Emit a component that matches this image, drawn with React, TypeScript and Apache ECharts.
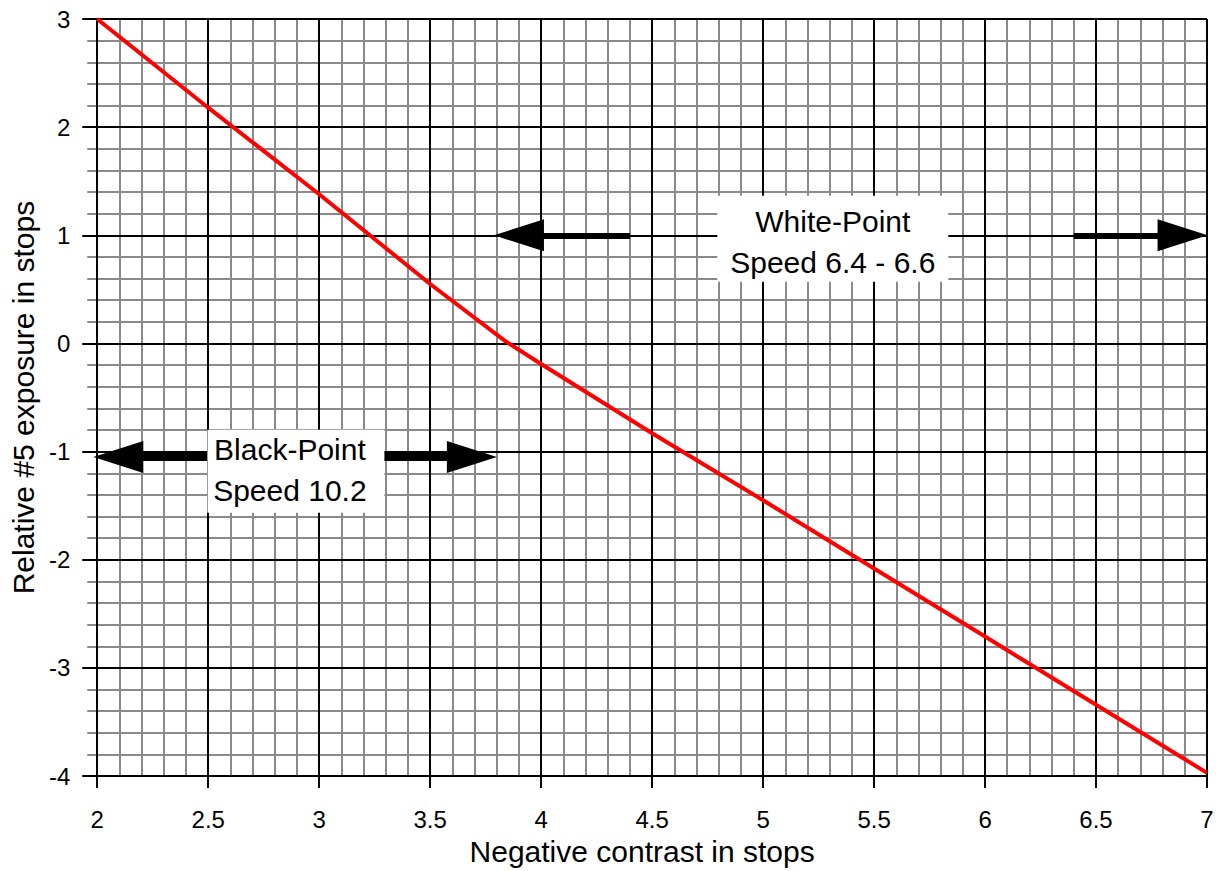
import React, { useEffect, useRef } from "react";
import * as echarts from "echarts";

// Axis ranges and ticks
const xRange = [2, 7];
const yRange = [-4, 3];
const xMajorStep = 0.5;
const yMajorStep = 1;

// Red curve: negative contrast (stops) vs relative #5 exposure (stops)
const contrastStops = [2, 2.5, 3, 3.5, 3.84, 4, 4.5, 5, 5.5, 6, 6.5, 7];
const relativeExposure = [3, 2.18, 1.38, 0.55, 0.02, -0.19, -0.83, -1.45, -2.08, -2.71, -3.34, -3.97];

// Arrow annotations (data coords; ends are head centres)
const whiteArrowLeft = [[4.4, 1], [3.9, 1]];
const whiteArrowRight = [[6.4, 1], [6.89, 1]];
const blackArrow = [[2.095, -1.05], [3.688, -1.05]];

// Label annotations
const whiteLabel = ["White-Point", "Speed 6.4 - 6.6"];
const whiteLabelAt = [5.314, 0.968];
const blackLabel = ["Black-Point", "Speed 10.2"];
const blackLabelAt = [2.895, -1.182];

const FONT = "'Liberation Sans', Arial, Helvetica, sans-serif";

export default function App() {
  const ref = useRef<HTMLDivElement>(null);
  useEffect(() => {
    if (!ref.current) return;
    const chart = echarts.init(ref.current, undefined, { renderer: "svg" });
    const seriesData = contrastStops.map((x, i) => [x, relativeExposure[i]]);
    const gray = "#8a8a8a";
    const minorX = {
      type: "value",
      min: xRange[0],
      max: xRange[1],
      interval: xMajorStep,
      position: "bottom",
      z: 0,
      axisLine: { show: false },
      axisTick: { show: false },
      axisLabel: { show: false },
      splitLine: { show: false },
      minorTick: { show: true, splitNumber: 5, length: 7, lineStyle: { color: gray, width: 2 } },
      minorSplitLine: { show: true, lineStyle: { color: gray, width: 2 } },
    };
    const majorX = {
      type: "value",
      min: xRange[0],
      max: xRange[1],
      interval: xMajorStep,
      position: "bottom",
      z: 1,
      name: "Negative contrast in stops",
      nameLocation: "middle",
      nameGap: 40,
      nameTextStyle: { color: "#000", fontSize: 30, fontFamily: FONT, padding: [0, 20, 0, 0] },
      axisLine: { show: true, onZero: false, lineStyle: { color: "#000", width: 2 } },
      axisTick: { show: true, length: 12, lineStyle: { color: "#000", width: 2 } },
      axisLabel: { show: true, margin: 31, color: "#000", fontSize: 24, fontFamily: FONT },
      splitLine: { show: true, lineStyle: { color: "#000", width: 2 } },
    };
    const minorY = {
      type: "value",
      min: yRange[0],
      max: yRange[1],
      interval: yMajorStep,
      position: "left",
      z: 0,
      axisLine: { show: false },
      axisTick: { show: false },
      axisLabel: { show: false },
      splitLine: { show: false },
      minorTick: { show: true, splitNumber: 5, length: 10, lineStyle: { color: gray, width: 2 } },
      minorSplitLine: { show: true, lineStyle: { color: gray, width: 2 } },
    };
    const majorY = {
      type: "value",
      min: yRange[0],
      max: yRange[1],
      interval: yMajorStep,
      position: "left",
      z: 1,
      name: "Relative #5 exposure in stops",
      nameLocation: "middle",
      nameGap: 53,
      nameTextStyle: { color: "#000", fontSize: 30, fontFamily: FONT },
      axisLine: { show: true, onZero: false, lineStyle: { color: "#000", width: 2 } },
      axisTick: { show: true, length: 15, lineStyle: { color: "#000", width: 2 } },
      axisLabel: { show: true, margin: 27, color: "#000", fontSize: 24, fontFamily: FONT },
      splitLine: { show: true, lineStyle: { color: "#000", width: 2 } },
    };
    const arrowLine = (pts: number[][], symbols: string[], width: number) => [
      { coord: pts[0], symbol: symbols[0], lineStyle: { width } },
      { coord: pts[1], symbol: symbols[1] },
    ];
    chart.setOption({
      animation: false,
      backgroundColor: "#fff",
      grid: { left: 94, right: 14, top: 19, bottom: 92, containLabel: false },
      xAxis: [minorX, majorX],
      yAxis: [minorY, majorY],
      series: [
        {
          type: "line",
          xAxisIndex: 1,
          yAxisIndex: 1,
          data: seriesData,
          showSymbol: false,
          symbol: "none",
          clip: false,
          z: 3,
          lineStyle: { color: "#ff0000", width: 4 },
          markLine: {
            silent: true,
            animation: false,
            symbolSize: [32, 50],
            label: { show: false },
            emphasis: { disabled: true },
            lineStyle: { color: "#000", width: 6, type: "solid" },
            itemStyle: { color: "#000" },
            data: [
              arrowLine(whiteArrowLeft, ["none", "triangle"], 6),
              arrowLine(whiteArrowRight, ["none", "triangle"], 6),
              arrowLine(blackArrow, ["triangle", "triangle"], 8),
            ],
          },
        },
      ],
    });

    const toPx = (p: number[]) => chart.convertToPixel({ xAxisIndex: 1, yAxisIndex: 1 }, p) as number[];
    const box = (lines: string[], at: number[], w: number, h: number, dx: number, dy: number) => {
      const c = toPx(at);
      return [
        {
          type: "rect",
          shape: { x: c[0] - w / 2, y: c[1] - h / 2, width: w, height: h },
          style: { fill: "#fff" },
          z: 10,
          silent: true,
        },
        {
          type: "text",
          x: c[0] + dx,
          y: c[1] + dy,
          z: 11,
          silent: true,
          style: {
            text: lines.join("\n"),
            font: `30px ${FONT}`,
            fill: "#000",
            align: "center",
            verticalAlign: "middle",
            lineHeight: 41,
          },
        },
      ];
    };
    chart.setOption({
      graphic: [
        ...box(whiteLabel, whiteLabelAt, 231, 86, 0, 3),
        ...box(blackLabel, blackLabelAt, 177, 83, -6, -1),
      ],
    });
    return () => chart.dispose();
  }, []);
  return (
    <div
      ref={ref}
      style={{ position: "fixed", left: 0, top: 0, width: 1221, height: 871, background: "#fff" }}
    />
  );
}
